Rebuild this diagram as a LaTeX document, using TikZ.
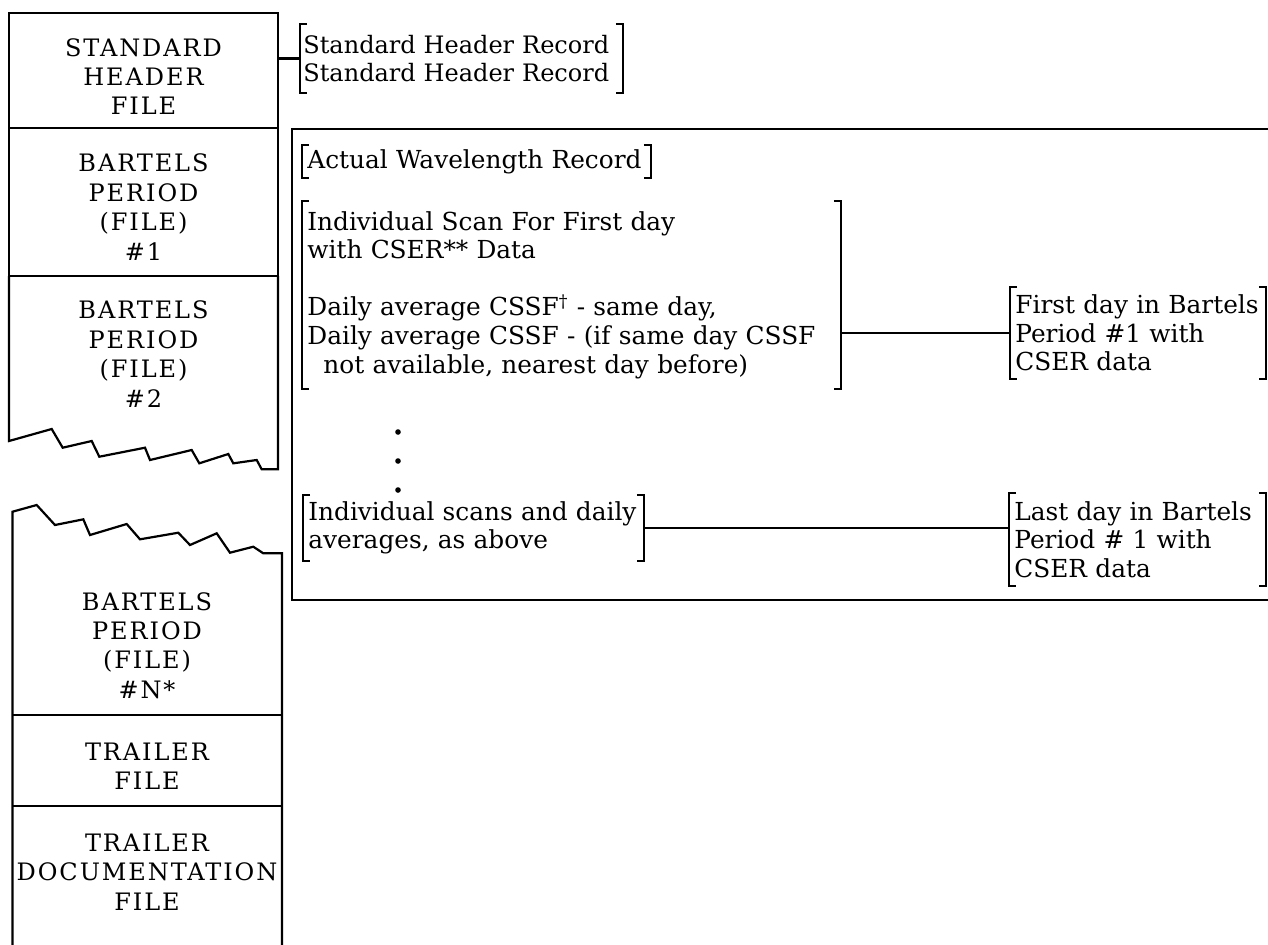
\documentclass[tikz,border=0pt]{standalone}
\usepackage{fontspec}
\setmainfont{DejaVu Serif}
\newfontfamily\capfont[LetterSpace=8]{DejaVu Serif}
\usetikzlibrary{positioning}

% square brackets round a record node
\newcommand\recbrk[1]{%
  \draw[ln] ([xshift=3.5pt]#1.north west) -- (#1.north west) -- (#1.south west) -- ([xshift=3.5pt]#1.south west);
  \draw[ln] ([xshift=-3.5pt]#1.north east) -- (#1.north east) -- (#1.south east) -- ([xshift=-3.5pt]#1.south east);}

\begin{document}
\begin{tikzpicture}[x=0.5pt,y=-0.5pt,
  ln/.style={line width=1.1pt},
  filebox/.style={draw,ln,minimum width=134.5pt,inner sep=0pt},
  caps/.style={align=center,inner sep=0pt,font=\capfont\fontsize{12}{14.7}\selectfont},
  rec/.style={anchor=north west,align=left,inner xsep=2.5pt,inner ysep=0pt,
    font=\fontsize{12.4}{14.3}\selectfont}
]
\useasboundingbox (0,0) rectangle (1268,944);

% left column: files
\node[filebox,minimum height=57.5pt] (hdr) at (143.5,70.5) {};
\node[filebox,minimum height=74pt] (bp1) at (143.5,202) {};
\draw[ln] (9,276) -- (9,441) -- (51.7,429) -- (62.7,447.7) -- (91.7,441) -- (99.3,456.7)
  -- (145,447.7) -- (150,460) -- (191.7,450) -- (199.3,463.3) -- (228.3,454) -- (233.3,463.3)
  -- (256.7,460) -- (261.7,469.3) -- (278,469.3) -- (278,276);
\draw[ln] (12.5,950) -- (12.5,511.7) -- (36.7,505) -- (55,525) -- (83.3,519.3) -- (90,535)
  -- (126.7,524) -- (140,539.3) -- (178.3,532.7) -- (190,545) -- (216.7,533.3) -- (230,552.7)
  -- (253.3,546.7) -- (263.3,553.3) -- (282,553.3) -- (282,950);
\draw[ln] (12.5,715) -- (282,715);
\draw[ln] (12.5,806) -- (282,806);

\node[caps] (hdrtxt) at (143.5,76.5) {STANDARD\\HEADER\\FILE};
\node[caps] (bp1txt) at (143.5,207) {BARTELS\\PERIOD\\(FILE)\\\#1};
\node[caps] (bp2txt) at (143.5,354) {BARTELS\\PERIOD\\(FILE)\\\#2};
\node[caps] (bpntxt) at (147,645.5) {BARTELS\\PERIOD\\(FILE)\\\#N*};
\node[caps] (trltxt) at (147,766) {TRAILER\\FILE};
\node[caps] (doctxt) at (147,872) {TRAILER\\DOCUMENTATION\\FILE};

% right side: records
\draw[ln] (1272,129) -- (292,129) -- (292,600) -- (1272,600);

\node[rec,inner xsep=1.5pt,text width=158pt,minimum height=34pt,
  font=\fontsize{12}{14.3}\selectfont] (shr) at (300,24)
  {Standard Header Record\\Standard Header Record};
\node[rec,text width=169pt,minimum height=16pt] (awr) at (302,145)
  {Actual Wavelength Record};
\node[rec,text width=264pt,minimum height=93.5pt] (scan) at (302,201)
  {Individual Scan For First day\\with CSER** Data\\[14.3pt]
   Daily average CSSF\textsuperscript{\textdagger} - same day,\\
   Daily average CSSF - (if same day CSSF\\
   \hspace*{8pt}not available, nearest day before)};
\node[rec,text width=122.5pt,minimum height=45.5pt] (first) at (1010,287)
  {First day in Bartels\\Period \#1 with\\CSER data};
\node[rec,text width=165pt,minimum height=32.5pt] (scans) at (303,495)
  {Individual scans and daily\\averages, as above};
\node[rec,text width=123pt,minimum height=46pt] (last) at (1009,493)
  {Last day in Bartels\\Period \# 1 with\\CSER data};

\foreach \r in {shr,awr,scan,first,scans,last} {\recbrk{\r}}
\foreach \y in {432,461,490} \fill (398,\y) circle (1.4pt);

\draw[ln] (shr.west) -- (shr.west -| hdr.east);
\draw[ln] (scan.east |- first.west) -- (first.west);
\draw[ln] (scans.east) -- (scans.east -| last.west);
\end{tikzpicture}
\end{document}
